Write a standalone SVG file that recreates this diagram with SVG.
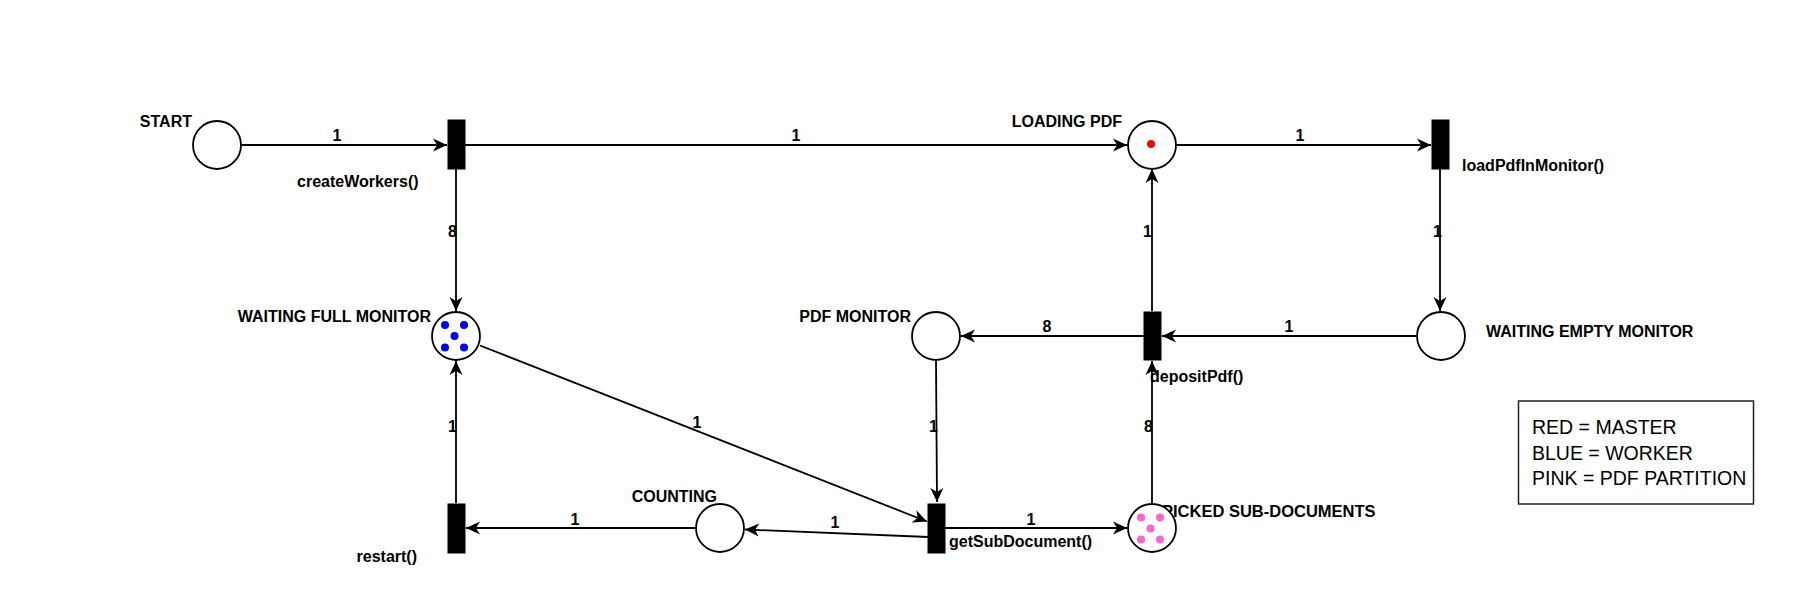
<svg xmlns="http://www.w3.org/2000/svg" width="1809" height="593" viewBox="0 0 1809 593">
<style>
.e{stroke:#000;stroke-width:1.8;fill:none;marker-end:url(#arr)}
.p{fill:#fff;stroke:#000;stroke-width:1.8}
.t{fill:#000;stroke:#000;stroke-width:1}
.lb{font-family:"Liberation Sans",Arial,sans-serif;font-size:16px;font-weight:bold;fill:#000}
.lg{font-family:"Liberation Sans",Arial,sans-serif;font-size:19.5px;fill:#000}
.r{fill:#ff0000}.b{fill:#0000ff}.k{fill:#ff66cc}
</style>
<defs>
<marker id="arr" markerUnits="userSpaceOnUse" markerWidth="16" markerHeight="16" viewBox="-15 -8 16 16" refX="0" refY="0" orient="auto">
<path d="M0,0 L-14,-6.5 L-10,0 L-14,6.5 Z" fill="#000"/>
</marker>
</defs>
<rect width="1809" height="593" fill="#fff"/>
<g id="connectors">
<line class="e" x1="241" y1="145" x2="447" y2="145"/>
<line class="e" x1="465" y1="145" x2="1127" y2="145"/>
<line class="e" x1="1176" y1="145" x2="1431" y2="145"/>
<line class="e" x1="456" y1="169" x2="456" y2="311"/>
<line class="e" x1="1440" y1="169" x2="1440" y2="311"/>
<line class="e" x1="1152" y1="311" x2="1152" y2="169"/>
<line class="e" x1="1416" y1="336" x2="1162" y2="336"/>
<line class="e" x1="1144" y1="336" x2="961" y2="336"/>
<line class="e" x1="480" y1="345.5" x2="927" y2="521.5"/>
<line class="e" x1="936" y1="360" x2="937" y2="502"/>
<line class="e" x1="1152" y1="504" x2="1152" y2="361"/>
<line class="e" x1="945" y1="528" x2="1127" y2="528"/>
<line class="e" x1="928" y1="537" x2="745" y2="529.5"/>
<line class="e" x1="696" y1="528" x2="466" y2="528"/>
<line class="e" x1="456" y1="503" x2="456" y2="361"/>
<text class="lb" x="337" y="141" text-anchor="middle">1</text>
<text class="lb" x="796" y="141" text-anchor="middle">1</text>
<text class="lb" x="1300" y="141" text-anchor="middle">1</text>
<text class="lb" x="457" y="237" text-anchor="end">8</text>
<text class="lb" x="1152" y="237" text-anchor="end">1</text>
<text class="lb" x="1442" y="237" text-anchor="end">1</text>
<text class="lb" x="1047" y="332" text-anchor="middle">8</text>
<text class="lb" x="1289" y="332" text-anchor="middle">1</text>
<text class="lb" x="697" y="428" text-anchor="middle">1</text>
<text class="lb" x="938" y="432" text-anchor="end">1</text>
<text class="lb" x="1153" y="432" text-anchor="end">8</text>
<text class="lb" x="457" y="432" text-anchor="end">1</text>
<text class="lb" x="575" y="525" text-anchor="middle">1</text>
<text class="lb" x="835" y="528" text-anchor="middle">1</text>
<text class="lb" x="1031" y="525" text-anchor="middle">1</text>
</g>
<g id="start">
<circle class="p" cx="217" cy="145" r="24"/>
<text class="lb" x="192" y="127" text-anchor="end">START</text>
</g>
<g id="createWorkers">
<rect class="t" x="448" y="120" width="17" height="49"/>
<text class="lb" x="297" y="187">createWorkers()</text>
</g>
<g id="loadingPdf">
<circle class="p" cx="1152" cy="145" r="24"/>
<circle class="r" cx="1151" cy="144" r="4"/>
<text class="lb" x="1122" y="127" text-anchor="end">LOADING PDF</text>
</g>
<g id="loadPdfInMonitor">
<rect class="t" x="1432" y="120" width="17" height="49"/>
<text class="lb" x="1462" y="171">loadPdfInMonitor()</text>
</g>
<g id="waitingFullMonitor">
<circle class="p" cx="456" cy="336" r="24"/>
<circle class="b" cx="445" cy="325" r="4"/>
<circle class="b" cx="464" cy="325" r="4"/>
<circle class="b" cx="454.5" cy="336" r="4"/>
<circle class="b" cx="445" cy="347.5" r="4"/>
<circle class="b" cx="464" cy="347.5" r="4"/>
<text class="lb" x="431" y="322" text-anchor="end">WAITING FULL MONITOR</text>
</g>
<g id="pdfMonitor">
<circle class="p" cx="936" cy="336" r="24"/>
<text class="lb" x="911" y="322" text-anchor="end">PDF MONITOR</text>
</g>
<g id="depositPdf">
<rect class="t" x="1144" y="312" width="17" height="48"/>
<text class="lb" x="1150" y="382">depositPdf()</text>
</g>
<g id="waitingEmptyMonitor">
<circle class="p" cx="1441" cy="336" r="24"/>
<text class="lb" x="1486" y="337">WAITING EMPTY MONITOR</text>
</g>
<g id="restart">
<rect class="t" x="448" y="504" width="17" height="49"/>
<text class="lb" x="417" y="562" text-anchor="end">restart()</text>
</g>
<g id="counting">
<circle class="p" cx="720" cy="528" r="24"/>
<text class="lb" x="717" y="502" text-anchor="end">COUNTING</text>
</g>
<g id="getSubDocument">
<rect class="t" x="928" y="504" width="17" height="49"/>
<text class="lb" x="949" y="547">getSubDocument()</text>
</g>
<g id="pickedSubDocuments">
<text class="lb" x="1162" y="517" style="font-size:16.5px">PICKED SUB-DOCUMENTS</text>
<circle class="p" cx="1152" cy="528" r="24"/>
<circle class="k" cx="1141" cy="517.5" r="4"/>
<circle class="k" cx="1160" cy="517.5" r="4"/>
<circle class="k" cx="1150.5" cy="528.5" r="4"/>
<circle class="k" cx="1141" cy="539.5" r="4"/>
<circle class="k" cx="1160" cy="539.5" r="4"/>
</g>
<g id="legend">
<rect x="1518.5" y="401" width="235" height="103" fill="#fff" stroke="#222" stroke-width="1.5"/>
<text class="lg" x="1532" y="434">RED = MASTER</text>
<text class="lg" x="1532" y="460">BLUE = WORKER</text>
<text class="lg" x="1532" y="485">PINK = PDF PARTITION</text>
</g>
</svg>
